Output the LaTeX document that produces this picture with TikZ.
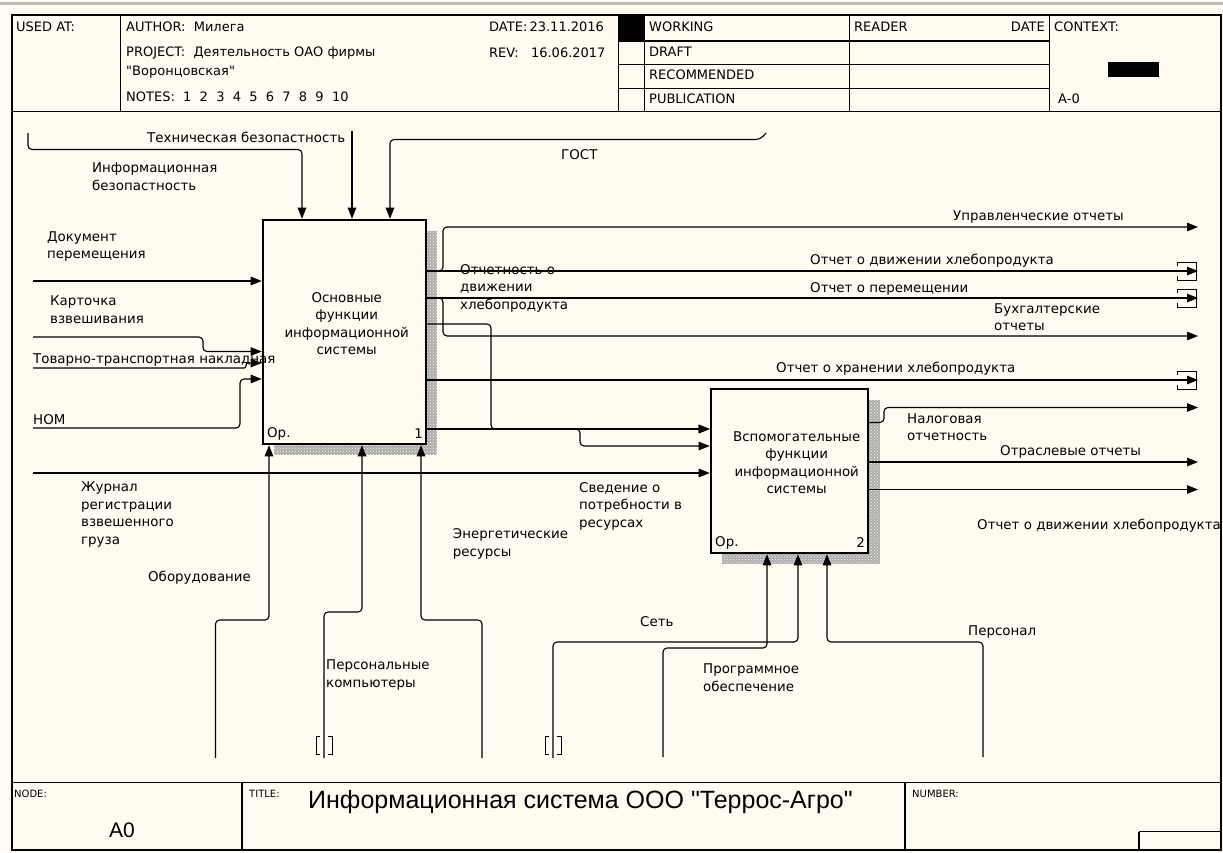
\documentclass[tikz,border=0pt]{standalone}
\usepackage{fontspec}
\setmainfont{DejaVu Sans}
\newfontfamily\plainfont{DejaVu Sans}
\newfontfamily\titlefont{Liberation Sans}
\usetikzlibrary{arrows.meta,patterns}
\definecolor{paper}{RGB}{255,251,240}
\begin{document}
\begin{tikzpicture}[x=1pt,y=-1pt,
  lbl/.style={font=\fontsize{13.4}{17.5}\selectfont,inner sep=0pt,anchor=west,align=left},
  hdr/.style={font=\fontsize{13}{17}\selectfont,inner sep=0pt,anchor=west},
  tag/.style={font=\fontsize{10}{12}\selectfont,inner sep=0pt,anchor=west},
  conn/.style={line width=1.1pt,rounded corners=4pt},
  arr/.style={conn,-{Triangle[length=11pt,width=8.5pt]}},
  funcbox/.style={draw,line width=2.6pt,fill=paper,inner sep=0pt},
  shade/.style={pattern=crosshatch dots,pattern color=paper},
  grid/.style={line width=1.2pt},
  tunb/.pic={\draw[line width=1pt] (-4,-9) -- (-8,-9) -- (-8,9) -- (-4,9) (4,-9) -- (8,-9) -- (8,9) -- (4,9);},
  tune/.pic={\draw[line width=1pt] (-21,-5) -- (-21,-9) -- (-2,-9) -- (-2,9) -- (-21,9) -- (-21,5);}]
\fill[paper] (0,0) rectangle (1223,852);
\useasboundingbox (0,0) rectangle (1223,852);
\fill[gray!50] (0,1.5) rectangle (1223,4.5);
\draw[grid] (12,15) rectangle (1221,850);
\draw[grid] (12,111.5) -- (1221,111.5);
\draw[grid] (12,782.7) -- (1221,782.7);
\draw[grid] (120.6,15) -- (120.6,111.5);
\draw[grid] (618.6,15) -- (618.6,111.5);
\draw[grid] (644.4,15) -- (644.4,111.5);
\draw[grid] (849.3,15) -- (849.3,111.5);
\draw[grid] (1049.8,15) -- (1049.8,111.5);
\draw[grid] (618.6,41) -- (1049.8,41);
\draw[grid] (618.6,64.3) -- (1049.8,64.3);
\draw[grid] (618.6,88.3) -- (1049.8,88.3);
\fill (618.6,15) rectangle (644.4,41);
\fill (1108,62) rectangle (1159,77);
\draw[grid] (242,782.7) -- (242,850);
\draw[grid] (905,782.7) -- (905,850);
\draw[grid] (1139,831.7) -- (1221,831.7) (1139,831.7) -- (1139,850);
\node[hdr] (usedat) at (16,27) {USED AT:};
\node[hdr] (author) at (126,27) {AUTHOR:\ \ Милега};
\node[hdr] (project) at (126,53) {PROJECT:\ \ Деятельность ОАО фирмы};
\node[hdr] (projcont) at (126,72) {\plainfont "Воронцовская"};
\node[hdr] (notes) at (126,97) {NOTES:\ \ 1\ \ 2\ \ 3\ \ 4\ \ 5\ \ 6\ \ 7\ \ 8\ \ 9\ \ 10};
\node[hdr] (date) at (489,27) {DATE:\,23.11.2016};
\node[hdr] (rev) at (489,53) {REV:\ \ \ 16.06.2017};
\node[hdr] (working) at (649,27) {WORKING};
\node[hdr] (draft) at (649,52) {DRAFT};
\node[hdr] (recom) at (649,75) {RECOMMENDED};
\node[hdr] (public) at (649,99) {PUBLICATION};
\node[hdr] (reader) at (854,27) {READER};
\node[hdr,anchor=east] (rdate) at (1045,27) {DATE};
\node[hdr] (context) at (1054,27) {CONTEXT:};
\node[hdr] (ctxnode) at (1058,99) {A-0};
\node[tag] (nodelbl) at (14,794) {NODE:};
\node[font=\titlefont\fontsize{21}{23}\selectfont,inner sep=0pt] (nodeid) at (122,830) {A0};
\node[tag] (titlelbl) at (249,794) {TITLE:};
\node[font=\titlefont\fontsize{25}{28}\selectfont,inner sep=0pt,anchor=west] (title) at (308,802) {Информационная система ООО "Террос-Агро"};
\node[tag] (numlbl) at (912,794) {NUMBER:};
\fill[gray!65] (274,231) rectangle (437,455);
\fill[shade] (274,231) rectangle (437,455);
\fill[gray!65] (722,400) rectangle (880,564);
\fill[shade] (722,400) rectangle (880,564);
\node[funcbox,minimum width=163pt,minimum height=224pt] (b1) at (344.5,332) {};
\node[funcbox,minimum width=157pt,minimum height=164pt] (b2) at (789.5,471) {};
\node[lbl,align=center,anchor=center] (b1txt) at (346.7,323.5) {Основные\\функции\\информационной\\системы};
\node[lbl,align=center,anchor=center] (b2txt) at (796.7,462.7) {Вспомогательные\\функции\\информационной\\системы};
\node[lbl] (b1op) at (267,434) {Ор.};
\node[lbl,anchor=east] (b1num) at (423,434) {1};
\node[lbl] (b2op) at (715,543) {Ор.};
\node[lbl,anchor=east] (b2num) at (865,543) {2};
\coordinate (infoS) at (28,133);
\coordinate (techS) at (352,131);
\coordinate (gostS) at (766,133);
\coordinate (docS) at (33,281);
\coordinate (cardS) at (33,337);
\coordinate (ttnS) at (33,368);
\coordinate (nomS) at (33,428);
\coordinate (jourS) at (33,473);
\coordinate (mgmtE) at (1198,227);
\coordinate (moveE) at (1198,271);
\coordinate (relocE) at (1198,298);
\coordinate (acctE) at (1198,336);
\coordinate (storE) at (1198,380);
\coordinate (taxE) at (1198,407.5);
\coordinate (indE) at (1198,462);
\coordinate (move2E) at (1198,489.5);
\coordinate (equipS) at (215.5,758);
\coordinate (pcS) at (324,758);
\coordinate (enerS) at (482,758);
\coordinate (netS) at (553,758);
\coordinate (softS) at (663,757);
\coordinate (staffS) at (983,757);
\draw[arr] (infoS) |- (302,149.5) -- (302,0 |- b1.north);
\draw[arr] (techS) -- (techS |- b1.north);
\draw[arr] (gostS) -- (760,139.5) -- (390,139.5) -- (390,0 |- b1.north);
\draw[arr] (docS) -- (docS -| b1.west);
\draw[arr] (cardS) -- (203,337) -- (203,351.5) -- (b1.west |- 0,351.5);
\draw[arr,rounded corners=2pt] (ttnS) -- (246,368) -- (246,363) -- (b1.west |- 0,363);
\draw[arr] (nomS) -- (240,428) -- (240,379) -- (b1.west |- 0,379);
\draw[arr] (jourS) -- (jourS -| b2.west);
\draw[arr] (b1.east |- 0,271) -- (moveE);
\draw[arr] (b1.east |- 0,271) -- (443,271) -- (443,227) -- (mgmtE);
\draw[arr] (b1.east |- 0,298) -- (relocE);
\draw[arr] (b1.east |- 0,298) -- (443,298) -- (443,336) -- (acctE);
\draw[arr] (b1.east |- 0,324) -- (491,324) -- (491,429) -- (b2.west |- 0,429);
\draw[arr] (b1.east |- 0,429) -- (b2.west |- 0,429);
\draw[arr] (b1.east |- 0,429) -- (580,429) -- (580,446) -- (b2.west |- 0,446);
\draw[arr] (b1.east |- 0,380) -- (storE);
\draw[arr] (b2.east |- 0,422.5) -- (884,422.5) -- (884,407.5) -- (taxE);
\draw[arr] (b2.east |- 0,462) -- (indE);
\draw[arr] (b2.east |- 0,489.5) -- (move2E);
\draw[arr] (equipS) |- (269,620) -- (269,0 |- b1.south);
\draw[arr] (pcS) |- (362,612) -- (362,0 |- b1.south);
\draw[arr] (enerS) |- (421,620) -- (421,0 |- b1.south);
\draw[arr] (netS) |- (798,642) -- (798,0 |- b2.south);
\draw[arr] (softS) |- (767,648) -- (767,0 |- b2.south);
\draw[arr] (staffS) |- (827,642) -- (827,0 |- b2.south);
\pic at (324,745) {tunb};
\pic at (553,745) {tunb};
\pic at (moveE) {tune};
\pic at (relocE) {tune};
\pic at (storE) {tune};
\node[lbl] (lTech) at (147,137) {Техническая безопастность};
\node[lbl] (lInfo) at (92,176.5) {Информационная\\безопастность};
\node[lbl] (lGost) at (561,155) {ГОСТ};
\node[lbl] (lDoc) at (47,246.5) {Документ\\перемещения};
\node[lbl] (lCard) at (50,309.5) {Карточка\\взвешивания};
\node[lbl] (lTtn) at (33,360) {Товарно-транспортная накладная};
\node[lbl] (lNom) at (33,420) {НОМ};
\node[lbl] (lJour) at (81,514.5) {Журнал\\регистрации\\взвешенного\\груза};
\node[lbl] (lEquip) at (148,578) {Оборудование};
\node[lbl] (lPc) at (326,675) {Персональные\\компьютеры};
\node[lbl] (lEner) at (452.7,544) {Энергетические\\ресурсы};
\node[lbl] (lNeed) at (579,506) {Сведение о\\потребности в\\ресурсах};
\node[lbl] (lNet) at (640,622) {Сеть};
\node[lbl] (lSoft) at (703,677.7) {Программное\\обеспечение};
\node[lbl] (lStaff) at (968,632) {Персонал};
\node[lbl] (lRep) at (460,288) {Отчетность о\\движении\\хлебопродукта};
\node[lbl] (lMgmt) at (953,217) {Управленческие отчеты};
\node[lbl] (lMove) at (810,261) {Отчет о движении хлебопродукта};
\node[lbl] (lReloc) at (810,289) {Отчет о перемещении};
\node[lbl] (lAcct) at (994,317) {Бухгалтерские\\отчеты};
\node[lbl] (lStor) at (776,369) {Отчет о хранении хлебопродукта};
\node[lbl] (lTax) at (907,427) {Налоговая\\отчетность};
\node[lbl] (lInd) at (1000,452) {Отраслевые отчеты};
\node[lbl] (lMove2) at (977,526) {Отчет о движении хлебопродукта};
\end{tikzpicture}
\end{document}
